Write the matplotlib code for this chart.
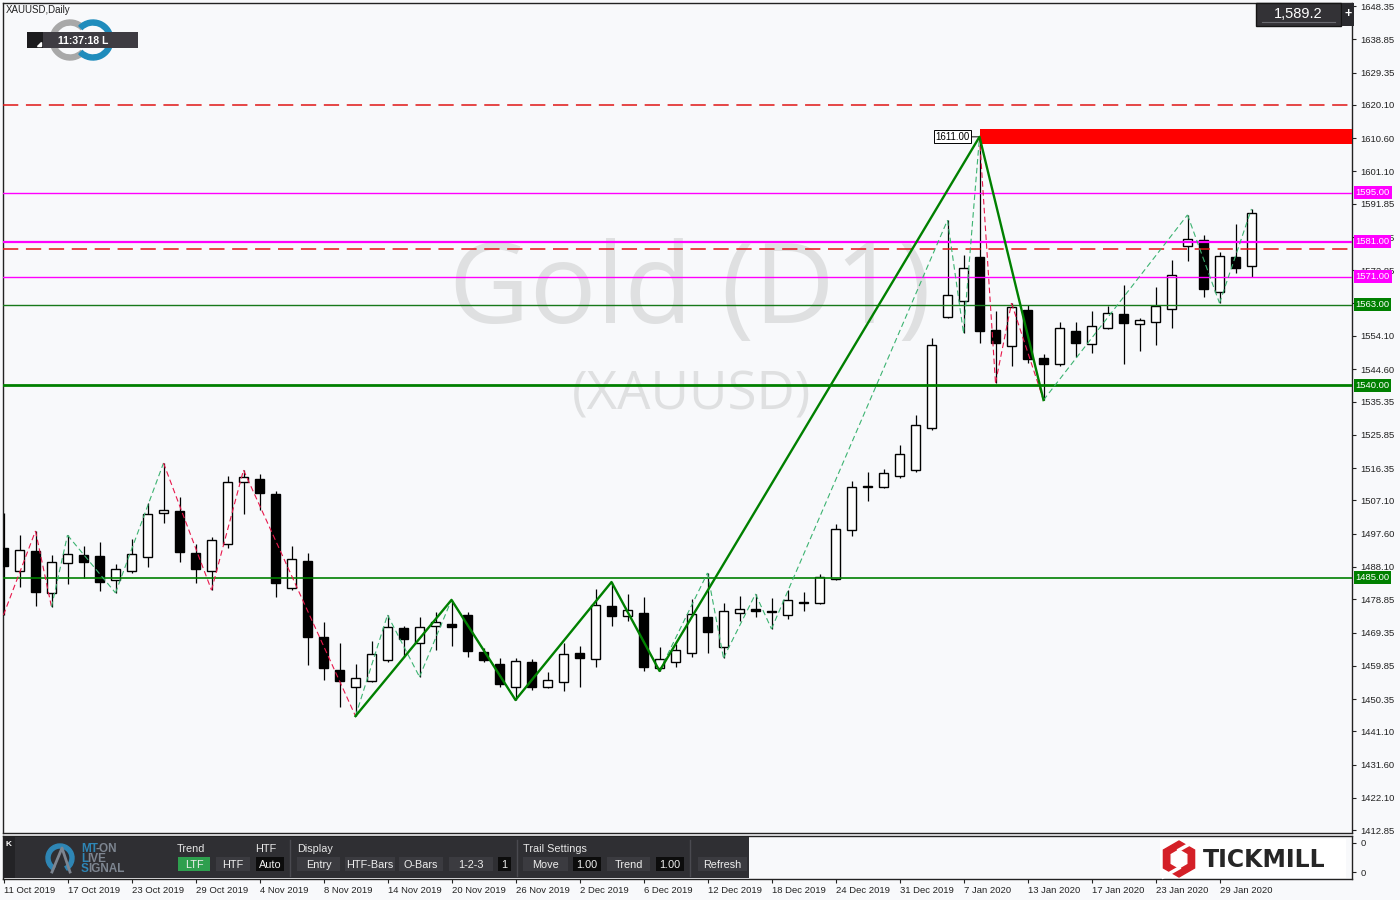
import numpy as np
import matplotlib
matplotlib.use('Agg')
import matplotlib.pyplot as plt
from matplotlib.patches import Rectangle, Wedge, RegularPolygon

plt.rcParams['font.family'] = ['Liberation Sans', 'DejaVu Sans']

# XAUUSD daily candles, 11 Oct 2019 .. 31 Jan 2020
opens = [1493.5, 1486.9, 1492.7, 1480.7, 1489.2, 1491.5, 1491.2, 1484.4, 1486.9, 1491.0,
         1503.5, 1504.1, 1492.1, 1486.9, 1494.7, 1512.4, 1513.2, 1508.9, 1482.1, 1489.8,
         1468.1, 1458.6, 1453.8, 1455.5, 1461.5, 1470.7, 1466.4, 1471.2, 1471.8, 1474.4,
         1463.8, 1460.4, 1453.8, 1460.9, 1453.8, 1455.2, 1463.5, 1461.8, 1476.9, 1474.1,
         1474.9, 1459.2, 1460.9, 1463.5, 1473.8, 1465.2, 1474.9, 1476.1, 1475.5, 1474.4,
         1478.1, 1477.8, 1484.7, 1498.7, 1511.2, 1511.0, 1514.1, 1515.8, 1527.8, 1559.5,
         1564.1, 1576.7, 1555.8, 1551.2, 1561.5, 1547.8, 1546.1, 1555.5, 1551.8, 1556.4,
         1560.4, 1557.5, 1558.1, 1561.8, 1579.8, 1581.5, 1566.7, 1576.7, 1574.1]
highs = [1503.5, 1497.2, 1498.4, 1491.5, 1497.2, 1494.1, 1495.2, 1489.0, 1496.1, 1506.4,
         1517.8, 1508.1, 1494.7, 1496.7, 1514.1, 1515.8, 1514.7, 1509.8, 1494.1, 1492.1,
         1472.4, 1466.4, 1460.4, 1467.0, 1474.4, 1471.2, 1473.8, 1475.2, 1478.7, 1475.2,
         1465.0, 1462.1, 1462.1, 1461.8, 1458.1, 1466.4, 1465.5, 1481.8, 1483.8, 1480.4,
         1479.5, 1465.2, 1466.1, 1478.9, 1486.4, 1477.8, 1479.8, 1480.4, 1479.2, 1481.5,
         1480.9, 1486.1, 1500.4, 1512.7, 1515.2, 1516.1, 1523.0, 1531.5, 1553.5, 1587.2,
         1577.2, 1611.0, 1561.2, 1563.5, 1563.0, 1549.0, 1558.1, 1558.1, 1561.2, 1562.7,
         1568.7, 1559.2, 1568.1, 1575.8, 1588.7, 1583.0, 1578.1, 1586.1, 1590.4]
lows = [1474.4, 1482.4, 1477.0, 1476.7, 1483.2, 1484.9, 1481.2, 1480.7, 1486.5, 1488.1,
        1500.7, 1489.5, 1483.5, 1481.5, 1493.5, 1503.2, 1504.4, 1479.6, 1481.6, 1460.1,
        1455.8, 1448.1, 1445.5, 1455.2, 1461.0, 1462.4, 1456.7, 1464.4, 1465.5, 1462.4,
        1461.0, 1453.8, 1450.1, 1452.9, 1453.5, 1452.7, 1453.8, 1459.5, 1471.2, 1472.7,
        1458.4, 1458.4, 1459.5, 1462.4, 1463.5, 1462.1, 1472.7, 1473.8, 1470.4, 1473.2,
        1475.5, 1477.5, 1484.4, 1496.9, 1506.9, 1510.7, 1513.5, 1515.2, 1527.2, 1559.2,
        1555.0, 1552.1, 1540.7, 1545.5, 1546.4, 1535.8, 1545.5, 1548.1, 1549.2, 1556.1,
        1546.1, 1549.8, 1551.5, 1556.4, 1575.5, 1565.2, 1563.5, 1572.1, 1571.0]
closes = [1488.4, 1492.9, 1481.0, 1489.5, 1491.8, 1489.5, 1483.8, 1487.5, 1491.8, 1503.2,
          1504.4, 1492.4, 1487.5, 1495.8, 1512.4, 1513.8, 1509.2, 1483.5, 1490.4, 1468.1,
          1459.2, 1455.5, 1456.4, 1463.2, 1470.9, 1467.5, 1470.9, 1472.4, 1470.9, 1464.1,
          1461.5, 1454.6, 1461.2, 1453.8, 1455.8, 1463.2, 1462.1, 1477.2, 1474.1, 1475.8,
          1459.5, 1461.8, 1464.4, 1474.7, 1469.5, 1475.5, 1476.1, 1475.5, 1475.2, 1478.7,
          1477.8, 1485.2, 1499.0, 1511.0, 1511.0, 1515.0, 1520.4, 1528.7, 1551.5, 1565.8,
          1573.5, 1555.5, 1552.1, 1562.4, 1547.5, 1546.1, 1556.4, 1552.1, 1557.0, 1560.7,
          1557.8, 1558.7, 1562.7, 1571.5, 1581.8, 1567.5, 1577.0, 1573.5, 1589.2]

date_labels = ['11 Oct 2019', '17 Oct 2019', '23 Oct 2019', '29 Oct 2019', '4 Nov 2019',
               '8 Nov 2019', '14 Nov 2019', '20 Nov 2019', '26 Nov 2019', '2 Dec 2019',
               '6 Dec 2019', '12 Dec 2019', '18 Dec 2019', '24 Dec 2019', '31 Dec 2019',
               '7 Jan 2020', '13 Jan 2020', '17 Jan 2020', '23 Jan 2020', '29 Jan 2020']
label_step = 4

price_ticks = [1648.35, 1638.85, 1629.35, 1620.10, 1610.60, 1601.10, 1591.85, 1582.35,
               1572.85, 1563.60, 1554.10, 1544.60, 1535.35, 1525.85, 1516.35, 1507.10,
               1497.60, 1488.10, 1478.85, 1469.35, 1459.85, 1450.35, 1441.10, 1431.60,
               1422.10, 1412.85]
hidden_ticks = [1563.60]   # fully covered by the 1563.00 level label

# zigzag pivots: bar index, alternating low / high starting with a low
minor_pivots = [0, 2, 3, 4, 7, 10, 13, 15, 22, 24, 26, 28, 32, 38, 41, 44, 45, 47, 48,
                59, 60, 61, 62, 63, 65, 74, 76, 78]
minor_legs = ['r', 'r', 'g', 'g', 'g', 'r', 'r', 'r', 'g', 'g', 'g', 'g', 'g', 'g', 'g',
              'g', 'g', 'g', 'g', 'g', 'g', 'r', 'r', 'r', 'g', 'g', 'g']
major_pivots = [22, 28, 32, 38, 41, 61, 65]

resist_levels = [1595.0, 1581.0, 1571.0]
support_levels = [1563.0, 1540.0, 1485.0]
dashed_levels = [1620.0, 1579.0]
zone_start = 61
zone_low, zone_high = 1608.9, 1613.2
peak_price = 1611.00
last_price = 1589.2
clock = '11:37:18 L'

BG = '#f8f9fb'
W, H = 1400, 900

fig = plt.figure(figsize=(14, 9), dpi=100, facecolor=BG)
ax = fig.add_axes([3 / W, (H - 833) / H, 1349 / W, 830 / H], facecolor=BG)
sub = fig.add_axes([3 / W, (H - 879) / H, 1349 / W, 43 / H], facecolor=BG)

n = len(opens)
x = np.arange(n)
o, h, l, c = map(np.array, (opens, highs, lows, closes))
xmax = (1352 - 3.5) / 16
ax.set_xlim(-0.5 / 16, xmax)
ax.set_ylim(1412.1, 1649.24)

# watermark
ax.text(690 / W, 1 - 323 / H, 'Gold (D1)', transform=fig.transFigure, ha='center',
        va='baseline', fontsize=80, color='#dfe0e1', family='Open Sans', zorder=0)
ax.text(692 / W, 1 - 410 / H, '(XAUUSD)', transform=fig.transFigure, ha='center',
        va='baseline', fontsize=38, color='#dfe0e1', family='Open Sans', zorder=0)

# candles
up = c >= o
ax.vlines(x, l, h, color='black', lw=0.9, zorder=3)
body_lo = np.minimum(o, c)
body_h = np.maximum(np.abs(c - o), 0.25)
ax.bar(x, body_h, width=0.62, bottom=body_lo, color=np.where(up, 'white', 'black'),
       edgecolor='black', lw=1.0, zorder=4)

# horizontal levels
for lv, lw in zip(resist_levels, [1.0, 1.6, 1.0]):
    ax.axhline(lv, color='#ff00ff', lw=lw, zorder=5)
for lv, lw, col in zip(support_levels, [1.0, 2.0, 1.2], ['#17791a', '#008000', '#008000']):
    ax.axhline(lv, color=col, lw=lw, zorder=5)
for lv in dashed_levels:
    ax.axhline(lv, color='#e01515', lw=1.1, ls=(0, (10, 5)), zorder=5)

# supply zone
ax.fill_between([zone_start, xmax], zone_low, zone_high, color='#ff0000', lw=0, zorder=5)
ax.annotate(f'{peak_price:.2f}', xy=(zone_start, peak_price), xytext=(-7, 0),
            textcoords='offset points', ha='right', va='center', fontsize=7, zorder=6,
            bbox=dict(boxstyle='square,pad=0.15', fc='white', ec='black', lw=0.7),
            arrowprops=dict(arrowstyle='-', color='black', lw=0.7, shrinkA=0, shrinkB=0))

# minor zigzag
piv_price = [lows[i] if k % 2 == 0 else highs[i] for k, i in enumerate(minor_pivots)]
for k, col in enumerate(minor_legs):
    ax.plot(minor_pivots[k:k + 2], piv_price[k:k + 2],
            color='#3cb371' if col == 'g' else '#e8174b', lw=0.8,
            ls=(0, (5, 3)), zorder=6)

# major zigzag
maj_price = [lows[i] if k % 2 == 0 else highs[i] for k, i in enumerate(major_pivots)]
ax.plot(major_pivots, maj_price, color='#008000', lw=1.7, zorder=7)

# axes styling
for a in (ax, sub):
    for s in a.spines.values():
        s.set_color('#222222')
        s.set_linewidth(1.0)
ax.set_xticks([])
ax.yaxis.tick_right()
ax.set_yticks(price_ticks)
ax.set_yticklabels(['' if t in hidden_ticks else f'{t:.2f}' for t in price_ticks])
ax.tick_params(axis='y', length=3, width=0.8, pad=3, labelsize=6.8, colors='#222222')

# right-side coloured level labels
def level_label(val, fc):
    ax.annotate(f'{val:.2f}', xy=(1, val), xycoords=('axes fraction', 'data'),
                xytext=(2.5, 0), textcoords='offset points', ha='left', va='center',
                color='white', fontsize=6.8, annotation_clip=False, zorder=10,
                bbox=dict(boxstyle='square,pad=0.2', fc=fc, ec='none'))

for lv in resist_levels:
    level_label(lv, '#ff00ff')
for lv in support_levels:
    level_label(lv, '#008000')

# sub-window with date axis
sub.set_xlim(ax.get_xlim())
sub.set_ylim(0, 1)
sub.set_xticks(x[::label_step][:len(date_labels)])
sub.set_xticklabels(date_labels, ha='left')
sub.tick_params(axis='x', length=3, width=0.8, pad=2, labelsize=6.8, colors='#222222')
sub.yaxis.tick_right()
sub.set_yticks([0.84, 0.16])
sub.set_yticklabels(['0', '0'])
sub.tick_params(axis='y', length=3, width=0.8, pad=3, labelsize=6.8, colors='#222222')

# overlay for the terminal decorations
ov = fig.add_axes([0, 0, 1, 1], facecolor='none', zorder=10)
ov.set_xlim(0, W)
ov.set_ylim(H, 0)
ov.axis('off')

ov.text(6, 10, 'XAUUSD,Daily', fontsize=7, color='#222222', va='center')
ov.add_patch(Wedge((70, 40), 20, 45, 315, width=5, color='#a8a8a8'))
ov.add_patch(Wedge((93, 40), 20, -135, 135, width=5, color='#1f8cbc'))
ov.add_patch(Rectangle((27, 32), 111, 16, fc='#3e3c42', ec='none'))
ov.add_patch(Rectangle((27, 32), 16, 16, fc='#1c1c1e', ec='none'))
ov.add_patch(plt.Polygon([[37, 46], [41, 46], [41, 42]], color='white'))
ov.text(83, 40.5, clock, fontsize=7.5, color='white', weight='bold', ha='center', va='center')

ov.add_patch(Rectangle((1256, 3), 85, 23, fc='#333236', ec='#151515', lw=1))
ov.plot([1262, 1335], [22, 22], color='#6a6a70', lw=0.8)
ov.text(1298, 14, f'{last_price:,.1f}', fontsize=10.5, color='white', ha='center', va='center')
ov.add_patch(Rectangle((1342, 3), 12, 23, fc='#2a2a2e', ec='none'))
ov.text(1348, 14, '+', fontsize=9, color='white', ha='center', va='center', weight='bold')

# MT-ON panel
ov.add_patch(Rectangle((3, 837), 746, 41, fc='#2f2f33', ec='none'))
ov.add_patch(Rectangle((3, 837), 12, 41, fc='#232326', ec='none'))
ov.text(9, 844, 'K', fontsize=6, color='white', weight='bold', ha='center', va='center')
ov.add_patch(Wedge((60, 858), 14, 120, 420, width=4, color='#2e86b5'))
ov.plot([52, 62, 70], [872, 848, 872], color='#7d8590', lw=2)
ov.text(81, 849, 'MT', fontsize=8.5, color='#2e86b5', weight='bold', va='center')
ov.text(96, 849, '-ON', fontsize=8.5, color='#7d8590', weight='bold', va='center')
ov.text(81, 859, 'L', fontsize=8.5, color='#2e86b5', weight='bold', va='center')
ov.text(87, 859, 'IVE', fontsize=8.5, color='#7d8590', weight='bold', va='center')
ov.text(81, 869, 'S', fontsize=8.5, color='#2e86b5', weight='bold', va='center')
ov.text(88, 869, 'IGNAL', fontsize=8.5, color='#7d8590', weight='bold', va='center')

for xh, t in [(177, 'Trend'), (255, 'HTF'), (297, 'Display'), (523, 'Trail Settings')]:
    ov.text(xh, 849, t, fontsize=7.8, color='#e8e8e8', va='center')
for xs in [290, 517, 690]:
    ov.plot([xs, xs], [840, 876], color='#4a4a50', lw=1)
buttons = [(178, 210, 'LTF', '#2e9f4e'), (216, 250, 'HTF', '#3b3b40'),
           (256, 284, 'Auto', '#0c0c0c'), (297, 340, 'Entry', '#3b3b40'),
           (345, 395, 'HTF-Bars', '#3b3b40'), (399, 443, 'O-Bars', '#3b3b40'),
           (449, 493, '1-2-3', '#3b3b40'), (498, 511, '1', '#0c0c0c'),
           (523, 568, 'Move', '#3b3b40'), (573, 601, '1.00', '#0c0c0c'),
           (607, 650, 'Trend', '#3b3b40'), (656, 684, '1.00', '#0c0c0c'),
           (698, 747, 'Refresh', '#3b3b40')]
for x0, x1, t, fc in buttons:
    ov.add_patch(Rectangle((x0, 857), x1 - x0, 14, fc=fc, ec='none'))
    ov.text((x0 + x1) / 2, 864.5, t, fontsize=7.8, color='#eeeeee', ha='center', va='center')

# TICKMILL logo
ov.add_patch(Rectangle((1160, 839), 186, 39, fc='white', ec='none'))
ov.add_patch(RegularPolygon((1179, 859), 6, radius=18, color='#d42027'))
ov.add_patch(RegularPolygon((1179, 859), 6, radius=9, color='white'))
ov.plot([1179, 1195], [850, 841], color='white', lw=2.5)
ov.plot([1179, 1163], [868, 877], color='white', lw=2.5)
ov.text(1203, 860, 'TICKMILL', fontsize=17, color='#262626', weight='bold', va='center',
        family='DejaVu Sans')

fig.savefig('out.png', dpi=100, facecolor=BG)
